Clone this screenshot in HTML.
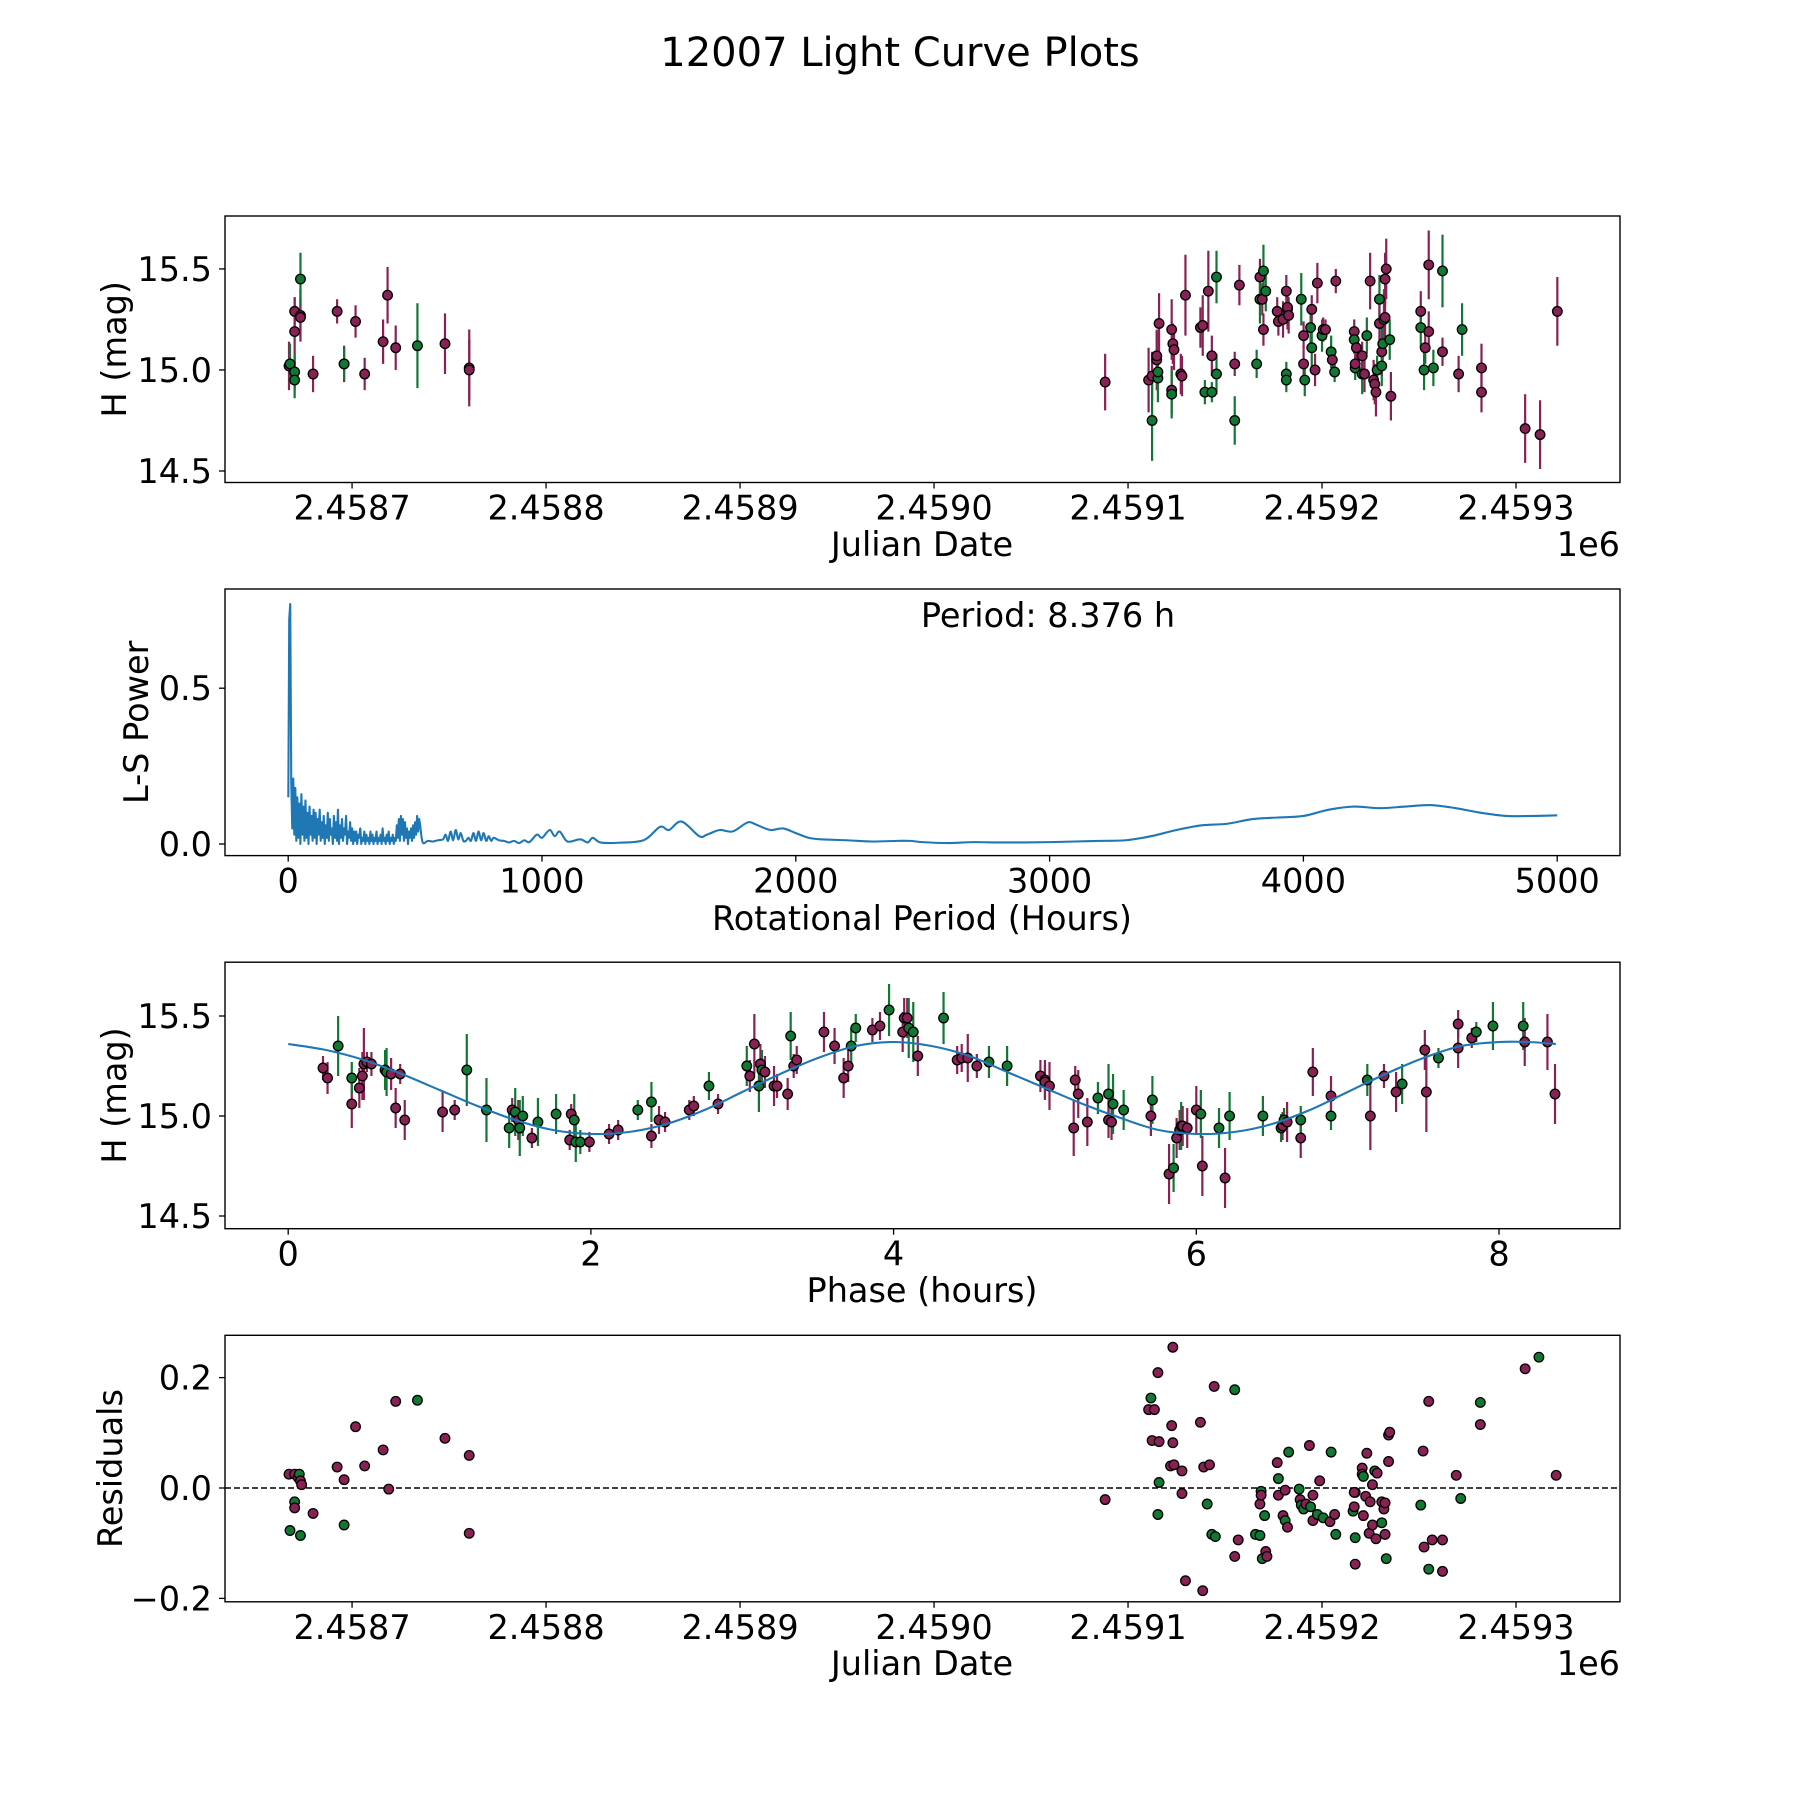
<!DOCTYPE html>
<html><head><meta charset="utf-8"><style>
html,body{margin:0;padding:0;background:#fff;}
svg{display:block;font-family:"DejaVu Sans","Liberation Sans",sans-serif;}
</style></head><body>
<svg id="fig" width="1800" height="1800" viewBox="0 0 1800 1800" xmlns="http://www.w3.org/2000/svg">
<rect width="1800" height="1800" fill="#fff"/>
<text x="900" y="66" font-size="40" text-anchor="middle">12007 Light Curve Plots</text>
</svg>
<script>
// ---------- DATA ----------
const JD_BASE = 2458700;
// Panel 1: light curve (JD offset from base, mag, error, band)
const lcJD = [-32.5,-32.0,-29.6,-29.6,-26.6,-26.6,-26.6,-29.6,-29.6,-20.1,-7.7,-4.1,-4.1,1.8,6.5,16,18.3,22.5,33.7,47.9,60.4,60.4,
388.2,410.6,412.4,412.4,414.8,414.8,415.4,415.4,416.0,422.5,422.5,422.5,423.1,423.7,427.2,427.8,429.6,437.3,438.5,439.6,441.4,443.2,443.2,445.6,445.6,457.4,455.0,455.0,466.3,468.0,468.0,469.2,469.8,469.8,471.0,476.9,477.5,479.9,481.6,482.2,482.2,481.6,481.6,482.8,489.3,490.5,490.5,491.1,494.1,494.7,494.7,496.4,497.6,500.0,500.6,501.8,504.7,505.3,506.5,507.1,516.6,516.6,517.1,517.1,517.7,520.7,520.7,521.9,523.1,524.8,526.6,527.2,527.8,528.4,529.6,529.6,530.8,530.8,531.3,531.9,532.5,532.5,533.1,534.9,535.5,550.9,550.9,553.2,552.6,555.0,555.0,557.4,562.1,562.1,570.4,572.2,582.2,582.2,604.7,612.4,621.3];
const lcMag = [15.02,15.03,15.19,15.29,15.27,15.26,15.45,14.99,14.95,14.98,15.29,15.03,15.03,15.24,14.98,15.14,15.37,15.11,15.12,15.13,15.01,15.0,
14.94,14.95,14.97,14.75,15.05,15.07,14.96,14.99,15.23,14.90,14.88,15.20,15.13,15.10,14.98,14.97,15.37,15.21,15.22,14.89,15.39,14.89,15.07,15.46,14.98,15.42,14.75,15.03,15.03,15.46,15.35,15.35,15.49,15.20,15.39,15.29,15.24,15.25,15.39,15.30,15.31,14.98,14.95,15.27,15.35,15.17,15.03,14.95,15.21,15.30,15.11,15.0,15.43,15.17,15.20,15.20,15.09,15.05,14.99,15.44,15.19,15.15,15.01,15.03,15.11,14.98,15.07,14.98,15.17,15.44,14.95,14.93,14.89,15.0,15.35,15.23,15.02,15.09,15.13,15.25,15.26,15.45,15.50,15.15,14.87,15.29,15.21,15.11,15.0,15.52,15.19,15.01,15.09,15.49,14.98,15.20,15.01,14.89,14.71,14.68,15.29];
const lcErr = [0.12,0.10,0.17,0.07,0.13,0.10,0.13,0.09,0.09,0.09,0.06,0.09,0.08,0.08,0.08,0.11,0.14,0.11,0.21,0.15,0.19,0.15,
0.14,0.16,0.12,0.20,0.15,0.12,0.12,0.10,0.15,0.12,0.12,0.15,0.10,0.10,0.10,0.10,0.20,0.10,0.15,0.06,0.20,0.05,0.10,0.13,0.10,0.10,0.12,0.06,0.07,0.09,0.12,0.08,0.13,0.08,0.10,0.07,0.07,0.09,0.08,0.10,0.06,0.06,0.06,0.09,0.13,0.07,0.07,0.08,0.10,0.07,0.12,0.08,0.10,0.08,0.06,0.05,0.08,0.06,0.05,0.06,0.06,0.07,0.06,0.05,0.08,0.10,0.07,0.09,0.09,0.14,0.10,0.10,0.12,0.07,0.12,0.14,0.10,0.12,0.13,0.15,0.12,0.13,0.15,0.10,0.12,0.10,0.10,0.08,0.10,0.17,0.10,0.09,0.07,0.18,0.09,0.13,0.12,0.10,0.17,0.17,0.17];
const lcBand = "PGPPPPGGGPPPGPPPPPGPPP"+"PPPGPPGGPPGPPPPPPPPGPGPGGPGPGPGPGPGPPPPPPGGPGPPGGPGPPGPPGPGPPGGPPGPPGPPPPGGPGPGGPPPGPPGPGPPGPGPGPPP";
// Panel 2: Lomb-Scargle periodogram
const lsSpikyStep = 4; // hours between samples in dense region
const lsSpikyPower = [0.72,0.77,0.20,0.05,0.21,0.03,0.18,
0.01,0.15,0.02,0.13,0.00,0.16,0.03,0.12,0.01,0.14,0.02,0.10,0.00,0.12,0.03,0.09,0.01,0.11,
0.02,0.10,0.00,0.08,0.03,0.11,0.01,0.07,0.02,0.09,0.00,0.06,0.02,0.10,0.01,0.08,0.03,0.05,0.00,0.09,0.02,0.07,0.01,0.11,0.00,0.06,0.02,0.08,0.01,0.05,0.03,0.09,0.00,0.04,0.02,0.07,0.01,0.05,0.00,0.04,
0.01,0.04,0.00,0.03,0.02,0.05,0.00,0.02,0.01,0.04,0.00,0.03,0.01,0.02,0.00,0.04,0.01,0.03,0.00,0.02,0.01,0.04,0.00,0.02,0.01,0.03,0.00,0.05,0.01,0.02,0.00,0.03,0.01,0.04,0.00,0.02,0.01,0.03,0.00,0.02,
0.01,0.06,0.02,0.08,0.01,0.09,0.03,0.08,0.01,0.07,0.02,0.05,0.00,0.04,0.02,0.05,0.01,0.06,0.02,0.07,0.03,0.09,0.04,0.08,0.06];
const lsPeriod = [530,550,570,590,610,620,630,640,650,660,670,680,690,700,710,720,730,740,750,760,770,780,790,800,810,830,850,870,890,910,930,950,980,1000,1030,1050,1070,1100,1150,1180,1200,1230,1300,1400,1465,1500,1550,1620,1650,1700,1750,1800,1820,1850,1900,1950,2000,2050,2100,2200,2300,2400,2450,2500,2600,2700,2800,2900,3000,3100,3200,3300,3400,3500,3600,3700,3800,3900,4000,4100,4200,4300,4400,4500,4600,4700,4800,4900,5000];
const lsPower = [0.005,0.01,0.008,0.012,0.015,0.03,0.01,0.04,0.012,0.045,0.015,0.035,0.01,0.01,0.02,0.01,0.035,0.01,0.04,0.012,0.035,0.01,0.025,0.01,0.02,0.012,0.01,0.005,0.01,0.003,0.012,0.006,0.03,0.02,0.045,0.025,0.04,0.008,0.015,0.005,0.02,0.005,0.004,0.012,0.055,0.045,0.072,0.025,0.03,0.045,0.04,0.065,0.07,0.06,0.045,0.05,0.035,0.02,0.015,0.012,0.008,0.01,0.01,0.006,0.003,0.006,0.005,0.005,0.006,0.008,0.01,0.012,0.025,0.045,0.06,0.065,0.08,0.085,0.09,0.11,0.12,0.115,0.12,0.125,0.115,0.1,0.09,0.09,0.092];
const periodLabel = "Period: 8.376 h";
// Panel 3: phased light curve
const phPhase = [0.23,0.26,0.33,0.42,0.42,0.47,0.49,0.50,0.52,0.55,0.64,0.65,0.68,0.71,0.74,0.77,1.02,1.10,1.18,1.31,1.46,1.48,1.50,1.52,1.53,1.55,1.65,1.61,1.77,1.86,1.87,1.89,1.90,1.93,1.99,2.12,2.18,2.31,2.40,2.40,2.45,2.49,2.65,2.68,2.78,2.84,3.03,3.05,3.08,3.11,3.12,3.13,3.15,3.21,3.23,3.30,3.32,3.34,3.36,3.54,3.61,3.67,3.70,3.72,3.75,3.86,3.91,3.97,4.06,4.07,4.09,4.10,4.13,4.16,4.33,4.42,4.45,4.49,4.55,4.63,4.75,4.97,5.00,5.00,5.03,5.19,5.20,5.28,5.22,5.35,5.42,5.42,5.44,5.45,5.52,5.70,5.71,5.82,5.85,5.87,5.89,5.90,5.91,5.94,6.00,6.03,6.04,6.15,6.19,6.22,6.44,6.56,6.57,6.58,6.60,6.69,6.69,6.77,6.89,6.89,7.13,7.15,7.24,7.32,7.36,7.52,7.51,7.60,7.73,7.73,7.82,7.85,7.96,8.16,8.17,8.32,8.37];
const phMag = [15.24,15.19,15.35,15.06,15.19,15.14,15.20,15.26,15.27,15.26,15.23,15.22,15.21,15.04,15.21,14.98,15.02,15.03,15.23,15.03,14.94,15.03,15.02,14.98,14.94,15.00,14.97,14.89,15.01,14.88,15.01,14.98,14.87,14.87,14.87,14.91,14.93,15.03,15.07,14.90,14.98,14.97,15.03,15.05,15.15,15.06,15.25,15.20,15.36,15.15,15.26,15.23,15.22,15.15,15.15,15.11,15.40,15.25,15.28,15.42,15.35,15.19,15.25,15.35,15.44,15.43,15.45,15.53,15.42,15.49,15.49,15.44,15.42,15.30,15.49,15.28,15.29,15.29,15.25,15.27,15.25,15.20,15.18,15.17,15.15,14.94,15.18,14.97,15.11,15.09,15.11,14.98,14.97,15.06,15.03,15.00,15.08,14.71,14.74,14.89,14.93,14.95,14.95,14.94,15.03,15.01,14.75,14.94,14.69,15.0,15.0,14.94,14.95,14.98,14.97,14.89,14.98,15.22,15.0,15.10,15.18,15.0,15.20,15.12,15.16,15.12,15.33,15.29,15.34,15.46,15.39,15.42,15.45,15.45,15.37,15.37,15.11];
const phErr = [0.06,0.08,0.15,0.12,0.08,0.10,0.12,0.18,0.05,0.06,0.10,0.12,0.08,0.10,0.05,0.10,0.10,0.05,0.18,0.16,0.10,0.06,0.12,0.10,0.14,0.10,0.12,0.05,0.10,0.05,0.05,0.13,0.10,0.06,0.05,0.05,0.05,0.05,0.10,0.06,0.07,0.05,0.05,0.05,0.07,0.05,0.10,0.08,0.15,0.13,0.10,0.10,0.08,0.10,0.06,0.08,0.12,0.06,0.07,0.10,0.09,0.10,0.08,0.09,0.07,0.06,0.07,0.13,0.10,0.10,0.10,0.15,0.15,0.10,0.13,0.07,0.07,0.12,0.06,0.08,0.10,0.08,0.10,0.08,0.12,0.14,0.07,0.12,0.12,0.08,0.15,0.09,0.09,0.15,0.10,0.10,0.12,0.15,0.12,0.10,0.10,0.12,0.10,0.10,0.12,0.12,0.15,0.10,0.15,0.12,0.10,0.07,0.07,0.06,0.10,0.10,0.07,0.12,0.07,0.10,0.08,0.17,0.06,0.10,0.10,0.20,0.10,0.05,0.10,0.07,0.05,0.05,0.12,0.12,0.12,0.14,0.15];
const phBand = "PPGPGPPPPPGGPPPPPPGGGPGPGGGPGPPGGGPPPGGPPPPPGPGPPGPGPPPPGPPPPPPGGPPGPPPGGPGPPPPGGPPPPPPPPGGPPGGPGPGPPGPPPGPGPGGGPGPPGPGPGPPPGPPGPPPGGGPP";
const fitPhase = [0,0.25,0.5,0.75,1,1.25,1.5,1.75,2,2.25,2.5,2.75,3,3.25,3.5,3.75,4,4.25,4.5,4.75,5,5.25,5.5,5.75,6,6.25,6.5,6.75,7,7.25,7.5,7.75,8,8.2,8.376];
const fitMag = [15.36,15.33,15.28,15.21,15.13,15.05,14.98,14.93,14.91,14.92,14.96,15.03,15.12,15.21,15.29,15.35,15.37,15.35,15.30,15.22,15.14,15.06,14.99,14.93,14.91,14.92,14.96,15.03,15.12,15.21,15.29,15.35,15.37,15.37,15.36];
// Panel 4: residuals
const resJD = [-32.5,-32.0,-29.6,-29.6,-29.6,-27.8,-27.2,-26.6,-26.0,-26.6,-20.1,-7.7,-4.1,-4.1,1.8,6.5,16.0,18.9,22.5,33.7,47.9,60.4,60.4,
388.2,410.6,411.8,412.4,413.6,415.4,416.0,416.0,415.4,421.9,422.5,423.1,423.1,423.7,427.8,427.8,429.6,437.3,438.5,439.0,440.8,442.0,444.4,443.2,445.0,455.0,455.0,456.8,465.7,468.0,468.0,468.6,468.6,469.2,470.4,471.0,471.6,476.9,477.5,477.5,479.9,481.0,481.0,482.8,482.2,488.2,488.7,489.3,490.5,491.7,493.5,494.1,495.3,495.3,497.6,498.8,500.6,504.1,504.7,506.5,507.1,516.0,517.1,516.6,516.6,517.1,517.1,520.7,520.7,521.3,521.3,522.5,523.1,524.3,524.8,526.0,527.2,526.0,527.8,528.4,530.8,530.8,531.9,532.5,532.5,533.1,534.3,534.3,534.9,550.9,552.1,552.6,555.0,555.0,556.8,562.1,562.1,569.2,571.5,581.6,581.6,604.7,611.8,620.7];
const resVal = [0.025,-0.077,0.025,-0.025,-0.036,0.019,0.025,0.013,0.006,-0.086,-0.046,0.038,0.015,-0.067,0.111,0.040,0.069,-0.002,0.157,0.159,0.090,0.059,-0.082,
-0.021,0.142,0.163,0.086,0.142,0.209,0.084,0.010,-0.048,0.040,0.113,0.255,0.082,0.042,0.031,-0.010,-0.168,0.119,-0.186,0.038,-0.029,0.042,0.184,-0.084,-0.088,-0.124,0.178,-0.094,-0.084,-0.086,-0.029,-0.006,-0.013,-0.128,-0.050,-0.115,-0.124,0.046,0.017,-0.013,-0.050,-0.059,-0.004,0.065,-0.071,-0.002,-0.021,-0.031,-0.038,-0.029,0.077,-0.034,-0.059,-0.013,-0.048,0.013,-0.054,-0.061,0.065,-0.048,-0.084,-0.042,-0.008,-0.008,-0.034,-0.090,-0.138,0.036,0.025,0.021,-0.050,-0.015,0.063,-0.082,-0.025,0.006,0.031,-0.067,-0.092,0.027,-0.063,-0.025,-0.038,-0.084,-0.027,-0.128,0.096,0.048,0.101,-0.031,0.067,-0.107,0.157,-0.147,-0.094,-0.151,-0.094,0.023,-0.019,0.115,0.155,0.216,0.237,0.023];
const resBand = "PGPGPPGPPGPPPGPPPPPGPPP"+"PPGPPPPGGPPPPPPPPPPPGPPGGPGPGGPGPGGPPPGPPGPGPGPGGPPGPPGPGPGPGGPPPGPPPGPPPPPPGPPPGPPPPGPPPGPPPGPPPPGPGPGPPPPPPPGPP";
const jdTicks = [2458700,2458800,2458900,2459000,2459100,2459200,2459300];
const jdTickLabels = ["2.4587","2.4588","2.4589","2.4590","2.4591","2.4592","2.4593"];
const magTicks = [14.5,15.0,15.5];
const lsXTicks = [0,1000,2000,3000,4000,5000];
const lsYTicks = [0.0,0.5];
const phXTicks = [0,2,4,6,8];
const resTicks = [-0.2,0.0,0.2];

// ---------- DRAW ----------
const NS = "http://www.w3.org/2000/svg";
const svg = document.getElementById('fig');
const PURPLE = "#882255", GREEN = "#117733";
function mk(tag, attrs, parent){
  const e = document.createElementNS(NS, tag);
  for (const k in attrs) e.setAttribute(k, attrs[k]);
  (parent||svg).appendChild(e);
  return e;
}
function scale(d0,d1,p0,p1){ return v => p0 + (v-d0)/(d1-d0)*(p1-p0); }
const L = 225, R = 1620;
const FS = 33.5;
const LFS = 33.5;
function frame(top, bottom, name){
  const g = mk('g', {});
  
  
  return g;
}
function spine(g, top, bottom){
  const r = mk('rect', {x:L, y:top, width:R-L, height:bottom-top, fill:'none', stroke:'#000', 'stroke-width':1.4}, g);
  
  
}
function xTicks(g, ticks, labels, sx, bottom, name){
  ticks.forEach((t,i)=>{
    const x = sx(t);
    const ln = mk('line', {x1:x, x2:x, y1:bottom, y2:bottom+6, stroke:'#000', 'stroke-width':1.3}, g);
    
    
    const tx = mk('text', {x:x, y:bottom+37, 'font-size':FS, 'text-anchor':'middle'}, g);
    tx.textContent = labels[i];
    
    
  });
}
function yTicks(g, ticks, labels, sy, name){
  ticks.forEach((t,i)=>{
    const y = sy(t);
    const ln = mk('line', {x1:L-6, x2:L, y1:y, y2:y, stroke:'#000', 'stroke-width':1.3}, g);
    
    
    const tx = mk('text', {x:L-13, y:y+12, 'font-size':FS, 'text-anchor':'end'}, g);
    tx.textContent = labels[i];
    
    
  });
}
function label(g, text, x, y, rot, name){
  const t = mk('text', {x:x, y:y, 'font-size':LFS, 'text-anchor':'middle'}, g);
  if (rot) t.setAttribute('transform', `rotate(-90 ${x} ${y})`);
  t.textContent = text;
  
  
}
function errPoints(g, xs, ys, errs, bands, sx, sy, name){
  const eg = mk('g', {}, g);
  
  
  xs.forEach((v,i)=>{
    const c = bands[i]==='G'?GREEN:PURPLE;
    const x = sx(v);
    const l = mk('line', {x1:x, x2:x, y1:sy(ys[i]-errs[i]), y2:sy(ys[i]+errs[i]), stroke:c, 'stroke-width':2.2}, eg);
    
    
  });
  points(g, xs, ys, bands, sx, sy, name);
}
function points(g, xs, ys, bands, sx, sy, name){
  const pg = mk('g', {}, g);
  
  
  xs.forEach((v,i)=>{
    const c = bands[i]==='G'?GREEN:PURPLE;
    const p = mk('circle', {cx:sx(v), cy:sy(ys[i]), r:4.8, fill:c, stroke:'#000', 'stroke-width':1.3}, pg);
    
    
  });
}
function smoothPath(P){
  let d = '';
  for (let i=0;i<P.length-1;i++){
    const p0=P[Math.max(0,i-1)], p1=P[i], p2=P[i+1], p3=P[Math.min(P.length-1,i+2)];
    const c1=[p1[0]+(p2[0]-p0[0])/6, p1[1]+(p2[1]-p0[1])/6];
    const c2=[p2[0]-(p3[0]-p1[0])/6, p2[1]-(p3[1]-p1[1])/6];
    d += `C${c1[0].toFixed(2)},${c1[1].toFixed(2)} ${c2[0].toFixed(2)},${c2[1].toFixed(2)} ${p2[0].toFixed(2)},${p2[1].toFixed(2)}`;
  }
  return d;
}

// Panel 1
(function(){
  const top=216, bottom=482.5;
  const g = frame(top,bottom,'light-curve-panel');
  const sx = scale(-65.5, 653.6, L, R);
  const sy = scale(14.443, 15.762, bottom, top);
  errPoints(g, lcJD, lcMag, lcErr, lcBand, sx, sy, 'light-curve');
  spine(g, top, bottom);
  xTicks(g, jdTicks.map(t=>t-JD_BASE), jdTickLabels, sx, bottom, 'x-axis');
  yTicks(g, magTicks, magTicks.map(v=>v.toFixed(1)), sy, 'y-axis');
  label(g, 'Julian Date', 922, 556, false, 'x-axis-title');
  const e = mk('text', {x:R, y:556, 'font-size':FS, 'text-anchor':'end'}, g);
  e.textContent = '1e6';
  
  
  label(g, 'H (mag)', 126, (top+bottom)/2, true, 'y-axis-title');
})();

// Panel 2
(function(){
  const top=589, bottom=855.6;
  const g = frame(top,bottom,'periodogram-panel');
  const sx = scale(0, 1000, 288.2, 542);
  const sy = scale(0, 0.5, 844, 688.2);
  let pts = [[sx(0.5), sy(0.15)]];
  lsSpikyPower.forEach((p,i)=>pts.push([sx((i+1)*lsSpikyStep), sy(p)]));
  let d = 'M'+pts.map(p=>p[0].toFixed(2)+','+p[1].toFixed(2)).join('L');
  const sm = [pts[pts.length-1]];
  lsPeriod.forEach((p,i)=>sm.push([sx(p), sy(lsPower[i])]));
  d += smoothPath(sm);
  const path = mk('path', {d:d, fill:'none', stroke:'#1f77b4', 'stroke-width':2.1, 'stroke-linejoin':'round'}, g);
  
  
  spine(g, top, bottom);
  xTicks(g, lsXTicks, lsXTicks.map(String), sx, bottom, 'x-axis');
  yTicks(g, lsYTicks, lsYTicks.map(v=>v.toFixed(1)), sy, 'y-axis');
  label(g, 'Rotational Period (Hours)', 922, 930, false, 'x-axis-title');
  label(g, 'L-S Power', 148, (top+bottom)/2, true, 'y-axis-title');
  const pt = mk('text', {x:1048, y:627, 'font-size':FS, 'text-anchor':'middle'}, g);
  pt.textContent = periodLabel;
  
  
})();

// Panel 3
(function(){
  const top=962.2, bottom=1228.7;
  const g = frame(top,bottom,'phase-panel');
  const sx = scale(0, 8, 288.2, 1499);
  const sy = scale(15.0, 15.5, 1116, 1016);
  errPoints(g, phPhase, phMag, phErr, phBand, sx, sy, 'phased');
  const P = fitPhase.map((v,i)=>[sx(v), sy(fitMag[i])]);
  const d = 'M'+P[0][0]+','+P[0][1]+smoothPath(P);
  const fit = mk('path', {d:d, fill:'none', stroke:'#1f77b4', 'stroke-width':2.1}, g);
  
  
  spine(g, top, bottom);
  xTicks(g, phXTicks, phXTicks.map(String), sx, bottom, 'x-axis');
  yTicks(g, magTicks, magTicks.map(v=>v.toFixed(1)), sy, 'y-axis');
  label(g, 'Phase (hours)', 922, 1302, false, 'x-axis-title');
  label(g, 'H (mag)', 126, (top+bottom)/2, true, 'y-axis-title');
})();

// Panel 4
(function(){
  const top=1335.3, bottom=1601.8;
  const g = frame(top,bottom,'residuals-panel');
  const sx = scale(-65.5, 653.6, L, R);
  const sy = scale(0, 0.2, 1488, 1377.6);
  const zl = mk('line', {x1:L, x2:R, y1:sy(0), y2:sy(0), stroke:'#000', 'stroke-width':1.5, 'stroke-dasharray':'6,3'}, g);
  
  
  points(g, resJD, resVal, resBand, sx, sy, 'residual');
  spine(g, top, bottom);
  xTicks(g, jdTicks.map(t=>t-JD_BASE), jdTickLabels, sx, bottom, 'x-axis');
  yTicks(g, resTicks, resTicks.map(v=>(v<0?'\u2212':'')+Math.abs(v).toFixed(1)), sy, 'y-axis');
  label(g, 'Julian Date', 922, 1675, false, 'x-axis-title');
  const e = mk('text', {x:R, y:1675, 'font-size':FS, 'text-anchor':'end'}, g);
  e.textContent = '1e6';
  
  
  label(g, 'Residuals', 122, (top+bottom)/2, true, 'y-axis-title');
})();
</script>
</body></html>
